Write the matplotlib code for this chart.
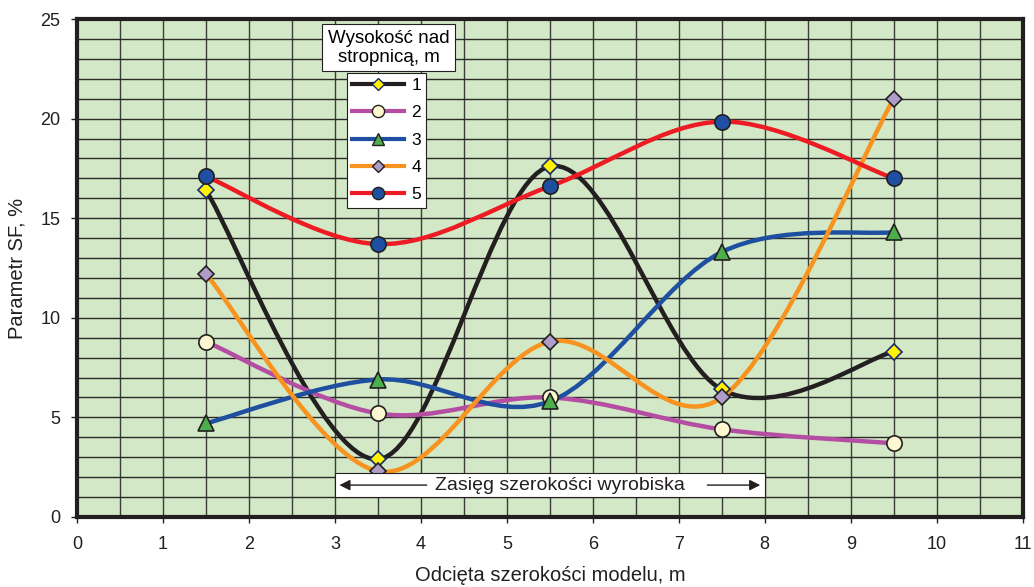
import numpy as np
import matplotlib
matplotlib.use("Agg")
import matplotlib.pyplot as plt
from matplotlib.path import Path
from matplotlib.patches import PathPatch
from matplotlib.lines import Line2D

plt.rcParams['font.family'] = ['Liberation Sans', 'DejaVu Sans']

# dane
x_pos = [1.5, 3.5, 5.5, 7.5, 9.5]
s1 = [16.4, 2.9, 17.6, 6.4, 8.3]
s2 = [8.8, 5.2, 6.0, 4.4, 3.7]
s3 = [4.7, 6.9, 5.8, 13.3, 14.3]
s4 = [12.2, 2.3, 8.8, 6.0, 21.0]
s5 = [17.1, 13.7, 16.6, 19.85, 17.0]
labels = ['1', '2', '3', '4', '5']

series = [s1, s2, s3, s4, s5]
line_colors = ['#231f20', '#b54ea3', '#1f4fa0', '#f7931e', '#ed1c24']
marker_face = ['#fff200', '#fdf8d0', '#4cae4c', '#b09cc9', '#1f4fa0']
marker_edge = ['#1b2a6b', '#231f20', '#231f20', '#231f20', '#231f20']
markers = ['D', 'o', '^', 'D', 'o']
msizes = [8, 11, 11, 8, 11]
txt = '#231f20'


def smooth_path(xs, ys):
    # wygladzanie jak w Excelu (krzywe Beziera)
    pts = np.column_stack([xs, ys])
    n = len(pts)
    verts = [pts[0]]
    codes = [Path.MOVETO]
    for i in range(n - 1):
        p0 = pts[max(i - 1, 0)]
        p1 = pts[i]
        p2 = pts[i + 1]
        p3 = pts[min(i + 2, n - 1)]
        c1 = p1 + (p2 - p0) / 6
        c2 = p2 - (p3 - p1) / 6
        verts += [c1, c2, p2]
        codes += [Path.CURVE4] * 3
    return Path(verts, codes)


fig = plt.figure(figsize=(10.34, 5.87), dpi=100)
ax = fig.add_axes([0.0745, 0.1193, 0.9145, 0.8483])
ax.set_facecolor('#d2e8c6')
ax.set_xlim(0, 11)
ax.set_ylim(0, 25)

for gx in np.arange(0.5, 11, 0.5):
    ax.axvline(gx, color='#3c3c3c', lw=1.0, zorder=1)
for gy in np.arange(1, 25, 1):
    ax.axhline(gy, color='#2a2a2a', lw=1.0, zorder=1)

for i, s in enumerate(series):
    ax.add_patch(PathPatch(smooth_path(x_pos, s), fill=False,
                           edgecolor=line_colors[i], lw=3.2, zorder=3,
                           capstyle='round'))
for i, s in enumerate(series):
    ax.plot(x_pos, s, linestyle='none', marker=markers[i], ms=msizes[i],
            mfc=marker_face[i], mec=marker_edge[i], mew=1.2, zorder=4)

for sp in ax.spines.values():
    sp.set_linewidth(3)
    sp.set_color(txt)
    sp.set_zorder(6)

ax.set_xticks(range(0, 12))
ax.set_yticks(range(0, 26, 5))
ax.tick_params(direction='out', length=4, width=1, labelsize=13,
               colors=txt, pad=10, labelcolor=txt)
ax.tick_params(axis='y', pad=8)
ax.set_xlabel('Odcięta szerokości modelu, m', fontsize=14.5, labelpad=9,
              color=txt)
ax.set_ylabel('Parametr SF, %', fontsize=14.5, labelpad=10, color=txt)

# legenda
handles = [Line2D([], [], color=line_colors[i], lw=3, marker=markers[i],
                  ms=msizes[i] * 0.8, mfc=marker_face[i], mec=marker_edge[i])
           for i in range(5)]
leg = ax.legend(handles, labels, loc='upper left',
                bbox_to_anchor=(0.2854, 0.892), frameon=True, fancybox=False,
                edgecolor=txt, framealpha=1, fontsize=12.5,
                handlelength=3.0, labelspacing=0.7, borderpad=0.3,
                borderaxespad=0, handletextpad=0.4)
leg.get_frame().set_linewidth(0.8)
leg.set_zorder(7)
ax.text(0.3298, 0.942, 'Wysokość nad\nstropnicą, m', transform=ax.transAxes,
        ha='center', va='center', fontsize=13.5, linespacing=1.12, zorder=8,
        bbox=dict(boxstyle='square,pad=0.3', fc='white', ec=txt, lw=0.8))

# zasieg wyrobiska
ax.add_patch(plt.Rectangle((3.0, 1.0), 5.0, 1.2, fc='white', ec=txt,
                           lw=0.8, zorder=7))
ax.text(5.62, 1.58, 'Zasięg szerokości wyrobiska', ha='center', va='center',
        fontsize=14, zorder=8, color=txt)
ax.annotate('', xy=(3.02, 1.6), xytext=(4.1, 1.6), zorder=9,
            arrowprops=dict(arrowstyle='-|>', color=txt, lw=1,
                            mutation_scale=16))
ax.annotate('', xy=(7.98, 1.6), xytext=(7.3, 1.6), zorder=9,
            arrowprops=dict(arrowstyle='-|>', color=txt, lw=1,
                            mutation_scale=16))

fig.savefig('out.png', dpi=100, facecolor='white')
